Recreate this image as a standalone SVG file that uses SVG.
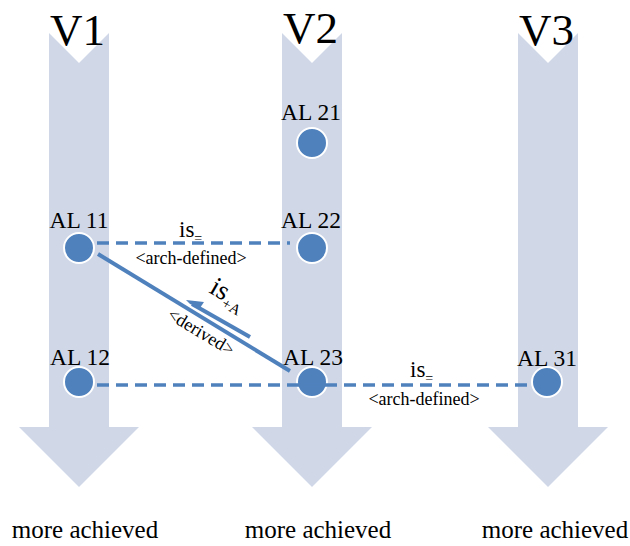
<svg xmlns="http://www.w3.org/2000/svg" width="630" height="546" viewBox="0 0 630 546">
<style>
.band{fill:#D0D8E8}
.t{font-family:"Liberation Serif","Times New Roman",serif;fill:#000}
.big{font-size:45px}
.lab{font-size:23.5px;text-anchor:middle}
.sm{font-size:18px}
.node{fill:#4F81BD;stroke:#fff;stroke-width:2}
.dash{stroke:#4F81BD;stroke-width:3.5;stroke-dasharray:12 7;fill:none}
.solid{stroke:#4F81BD;stroke-width:4;fill:none}
</style>
<g id="bands">
<g id="V1"><polygon class="band" points="49,33 79,63 109,33 109,427 139,427 79,487 19,427 49,427"/><text class="t big" x="50" y="45">V1</text><text class="t lab" x="85" y="538" style="font-size:25px">more achieved</text></g>
<g id="V2"><polygon class="band" points="282,33 312,63 342,33 342,427 372,427 312,487 252,427 282,427"/><text class="t big" x="283" y="43">V2</text><text class="t lab" x="318" y="538" style="font-size:25px">more achieved</text></g>
<g id="V3"><polygon class="band" points="518,33 548,63 578,33 578,427 608,427 548,487 488,427 518,427"/><text class="t big" x="519" y="45">V3</text><text class="t lab" x="555" y="538" style="font-size:25px">more achieved</text></g>
</g>
<g id="AL11"><circle class="node" cx="79" cy="248" r="15"/><text class="t lab" x="79" y="228">AL 11</text></g>
<g id="AL12"><circle class="node" cx="79" cy="382" r="15"/><text class="t lab" x="80" y="365">AL 12</text></g>
<g id="AL21"><circle class="node" cx="312" cy="143" r="15"/><text class="t lab" x="311" y="120">AL 21</text></g>
<g id="AL22"><circle class="node" cx="312" cy="248" r="15"/><text class="t lab" x="311" y="228">AL 22</text></g>
<g id="AL23"><circle class="node" cx="312" cy="382" r="15"/><text class="t lab" x="313" y="365">AL 23</text></g>
<g id="AL31"><circle class="node" cx="547" cy="382" r="15"/><text class="t lab" x="547" y="366">AL 31</text></g>
<g id="connectors">
<line class="dash" x1="97" y1="243" x2="290" y2="243"/>
<line class="dash" x1="97" y1="385" x2="530" y2="385"/>
<line class="solid" x1="98" y1="254" x2="290" y2="371"/>
<line class="solid" x1="250" y1="337" x2="192" y2="304"/>
<polygon points="186,300 204,302 200,308 190,304" fill="#4F81BD"/>
<text class="t" x="179" y="237" style="font-size:23px">is<tspan font-size="14" dy="6">=</tspan></text>
<text class="t sm" x="191" y="264" text-anchor="middle">&lt;arch-defined&gt;</text>
<text class="t" x="410" y="377" style="font-size:23px">is<tspan font-size="14" dy="6">=</tspan></text>
<text class="t sm" x="424" y="405" text-anchor="middle">&lt;arch-defined&gt;</text>
<text class="t" transform="translate(208,292) rotate(30)" style="font-size:27px">is<tspan font-size="15" dy="6">+A</tspan></text>
<text class="t sm" transform="translate(198,337) rotate(31)" text-anchor="middle">&lt;derived&gt;</text>
</g>
</svg>
